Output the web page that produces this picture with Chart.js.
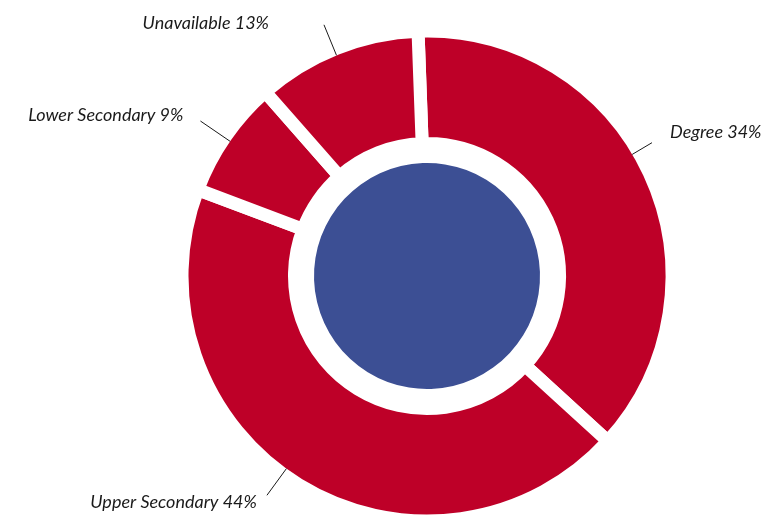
<!DOCTYPE html>
<html>
<head>
<meta charset="utf-8">
<script src="https://cdn.jsdelivr.net/npm/chart.js@4"></script>
<style>
  html, body { margin: 0; padding: 0; background: #fff; overflow: hidden; }
  #wrap { width: 761px; height: 530px; }
</style>
</head>
<body>
<div id="wrap"><canvas id="chart"></canvas></div>
<script>
// categories and values
const categories = ["Degree", "Upper Secondary", "Lower Secondary", "Unavailable"];
const shareLabels = [34, 44, 9, 13];          // % printed next to each slice
const arcValues = [37.4, 44, 7.8, 10.9];      // slice sizes as drawn in the ring

const RED = "#be0028";
const BLUE = "#3c4f94";

// leader lines + label placement (per slice, same order as categories)
const leaderStyle = [
  { turn: -5.8, len: 23, dx: 18, dy: -5, align: "left" },
  { turn: 4.6, len: 33, dx: -10, dy: 13, align: "right" },
  { turn: -0.3, len: 36, dx: -17, dy: 0, align: "right" },
  { turn: -0.6, len: 33, dx: -55, dy: 4, align: "right" },
];

const labelPlugin = {
  id: "sliceLabels",
  afterDatasetsDraw(chart) {
    const ctx = chart.ctx;
    const meta = chart.getDatasetMeta(0);
    ctx.save();
    ctx.strokeStyle = "#1a1a1a";
    ctx.lineWidth = 1;
    ctx.fillStyle = "#1a1a1a";
    ctx.font = "italic 18px Lato, 'DejaVu Sans', sans-serif";
    ctx.textBaseline = "alphabetic";
    meta.data.forEach((arc, i) => {
      const st = leaderStyle[i];
      const mid = (arc.startAngle + arc.endAngle) / 2 + st.turn * Math.PI / 180;
      const r0 = arc.outerRadius - 6.5;
      const r1 = r0 + st.len;
      const x0 = arc.x + Math.cos(mid) * r0, y0 = arc.y + Math.sin(mid) * r0;
      const x1 = arc.x + Math.cos(mid) * r1, y1 = arc.y + Math.sin(mid) * r1;
      ctx.beginPath();
      ctx.moveTo(x0, y0);
      ctx.lineTo(x1, y1);
      ctx.stroke();
      ctx.textAlign = st.align;
      ctx.fillText(categories[i] + " " + shareLabels[i] + "%", x1 + st.dx, y1 + st.dy);
    });
    ctx.restore();
  }
};

new Chart(document.getElementById("chart"), {
  type: "doughnut",
  data: {
    labels: categories,
    datasets: [
      {
        data: arcValues,
        backgroundColor: RED,
        borderColor: "#ffffff",
        borderWidth: 13,
        weight: 112.5,
      },
      {
        // white gap between ring and centre disc
        data: [1],
        backgroundColor: "rgba(0,0,0,0)",
        borderWidth: 0,
        weight: 19.5,
      },
      {
        data: [1],
        backgroundColor: BLUE,
        borderWidth: 0,
        weight: 113,
      },
    ],
  },
  options: {
    responsive: true,
    maintainAspectRatio: false,
    animation: false,
    events: [],
    cutout: 0,
    rotation: -2.1,
    layout: { padding: { left: 175.5, right: 82.5, top: 24.5, bottom: 2.5 } },
    plugins: {
      legend: { display: false },
      tooltip: { enabled: false },
    },
  },
  plugins: [labelPlugin],
});
</script>
</body>
</html>
